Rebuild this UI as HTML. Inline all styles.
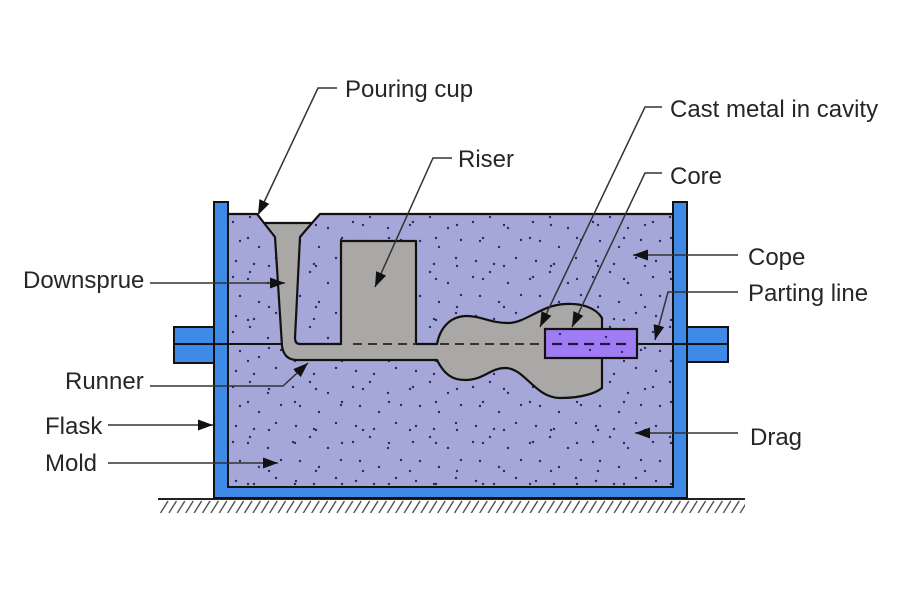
<!DOCTYPE html>
<html>
<head>
<meta charset="utf-8">
<style>
html,body{margin:0;padding:0;background:#fff;}
svg{display:block;}
text{font-family:"Liberation Sans",sans-serif;font-size:24px;fill:#262626;}
</style>
</head>
<body>
<svg width="900" height="600" viewBox="0 0 900 600" xmlns="http://www.w3.org/2000/svg">
<defs>
  <pattern id="d1" patternUnits="userSpaceOnUse" x="228" y="214" width="60" height="55">
    <circle cx="5" cy="8" r="1.2" fill="#262a66"/>
    <circle cx="22" cy="3" r="1.2" fill="#262a66"/>
    <circle cx="40" cy="14" r="1.2" fill="#262a66"/>
    <circle cx="53" cy="26" r="1.2" fill="#262a66"/>
    <circle cx="12" cy="27" r="1.2" fill="#262a66"/>
    <circle cx="31" cy="33" r="1.2" fill="#262a66"/>
    <circle cx="48" cy="44" r="1.2" fill="#262a66"/>
    <circle cx="8" cy="47" r="1.2" fill="#262a66"/>
    <circle cx="26" cy="50" r="1.2" fill="#262a66"/>
  </pattern>
  <pattern id="d2" patternUnits="userSpaceOnUse" x="231" y="219" width="47" height="41">
    <circle cx="17" cy="19" r="1.2" fill="#262a66"/>
    <circle cx="38" cy="6" r="1.2" fill="#262a66"/>
  </pattern>
  <pattern id="hatch" patternUnits="userSpaceOnUse" x="160" y="500" width="8.4" height="13">
    <path d="M0.5,13 L8,1" stroke="#444" stroke-width="1.3"/>
  </pattern>
  <marker id="ah" markerUnits="userSpaceOnUse" markerWidth="16" markerHeight="12" refX="15" refY="5.5" orient="auto">
    <path d="M0,0 L15,5.5 L0,11 z" fill="#111"/>
  </marker>
</defs>

<!-- ground -->
<rect x="160" y="500" width="585" height="13" fill="url(#hatch)"/>
<line x1="158" y1="499" x2="745" y2="499" stroke="#222" stroke-width="2"/>

<!-- ears -->
<rect x="174" y="327" width="40" height="36" fill="#3f8ae6" stroke="#111" stroke-width="2"/>
<rect x="687" y="327" width="41" height="35" fill="#3f8ae6" stroke="#111" stroke-width="2"/>

<!-- flask -->
<path d="M214,202 L228,202 L228,487 L673,487 L673,202 L687,202 L687,498 L214,498 Z" fill="#3f8ae6" stroke="#111" stroke-width="2"/>

<!-- mold sand -->
<rect x="228" y="214" width="445" height="273" fill="#a5a7d8"/>
<rect x="228" y="214" width="445" height="273" fill="url(#d1)"/>
<rect x="228" y="214" width="445" height="273" fill="url(#d2)"/>
<!-- notch above cup -->
<polygon points="256,213 264,223 312,223 321,213" fill="#fff"/>

<!-- metal -->
<path d="M264,223 L275,237 L282,346 Q284,360 297,360 L437,360 C444,374 452,380 465,380 C484,380 490,368 505,368 C525,368 535,398 560,398 C582,398 596,393 602,388 L602,318 C596,308 582,303 565,304 C541,305 526,323 508,323 C490,323 482,316 467,316 C450,316 440,328 437,344 L416,344 L416,241 L341,241 L341,344 L300,344 Q295,344 295,338 L300,237 L312,223 Z" fill="#a9a8a6" stroke="#111" stroke-width="2.2" stroke-linejoin="round"/>

<!-- mold outlines -->
<polyline points="228,214 257,214 264,223" fill="none" stroke="#111" stroke-width="2.2"/>
<polyline points="312,223 320,214 673,214" fill="none" stroke="#111" stroke-width="2.2"/>
<line x1="228" y1="214" x2="228" y2="487" stroke="#111" stroke-width="2"/>
<line x1="673" y1="214" x2="673" y2="487" stroke="#111" stroke-width="2"/>
<line x1="228" y1="487" x2="673" y2="487" stroke="#111" stroke-width="2"/>

<!-- parting line -->
<line x1="174" y1="344" x2="283" y2="344" stroke="#111" stroke-width="2"/>
<line x1="353" y1="344" x2="416" y2="344" stroke="#333" stroke-width="2" stroke-dasharray="9,6"/>
<line x1="440" y1="344" x2="545" y2="344" stroke="#333" stroke-width="2" stroke-dasharray="9,6"/>
<line x1="637" y1="344" x2="728" y2="344" stroke="#111" stroke-width="2"/>

<!-- core -->
<rect x="545" y="329" width="92" height="29" fill="#a07cf4" stroke="#111" stroke-width="2.2"/>
<line x1="552" y1="344" x2="632" y2="344" stroke="#1a1a40" stroke-width="2.2" stroke-dasharray="10,6"/>
<circle cx="560" cy="334" r="1.2" fill="#262a66"/>
<circle cx="590" cy="350" r="1.2" fill="#262a66"/>
<circle cx="606" cy="337" r="1.2" fill="#262a66"/>
<circle cx="622" cy="352" r="1.2" fill="#262a66"/>

<!-- leaders -->
<g fill="none" stroke="#333" stroke-width="1.5">
  <polyline points="337,88 318,88 258,215" marker-end="url(#ah)"/>
  <polyline points="452,158 433,158 375,287" marker-end="url(#ah)"/>
  <polyline points="662,107 645,107 540,327" marker-end="url(#ah)"/>
  <polyline points="662,173 645,173 572,327" marker-end="url(#ah)"/>
  <line x1="738" y1="255" x2="633" y2="255" marker-end="url(#ah)"/>
  <polyline points="738,292 668,292 655,340" marker-end="url(#ah)"/>
  <line x1="738" y1="433" x2="635" y2="433" marker-end="url(#ah)"/>
  <line x1="150" y1="283" x2="285" y2="283" marker-end="url(#ah)"/>
  <polyline points="150,386 283,386 308,363" marker-end="url(#ah)"/>
  <line x1="108" y1="425" x2="213" y2="425" marker-end="url(#ah)"/>
  <line x1="108" y1="463" x2="278" y2="463" marker-end="url(#ah)"/>
</g>

<!-- labels -->
<text x="345" y="97">Pouring cup</text>
<text x="458" y="167">Riser</text>
<text x="670" y="117">Cast metal in cavity</text>
<text x="670" y="184">Core</text>
<text x="748" y="265">Cope</text>
<text x="748" y="301">Parting line</text>
<text x="750" y="445">Drag</text>
<text x="23" y="288">Downsprue</text>
<text x="65" y="389">Runner</text>
<text x="45" y="434">Flask</text>
<text x="45" y="471">Mold</text>
</svg>
</body>
</html>
